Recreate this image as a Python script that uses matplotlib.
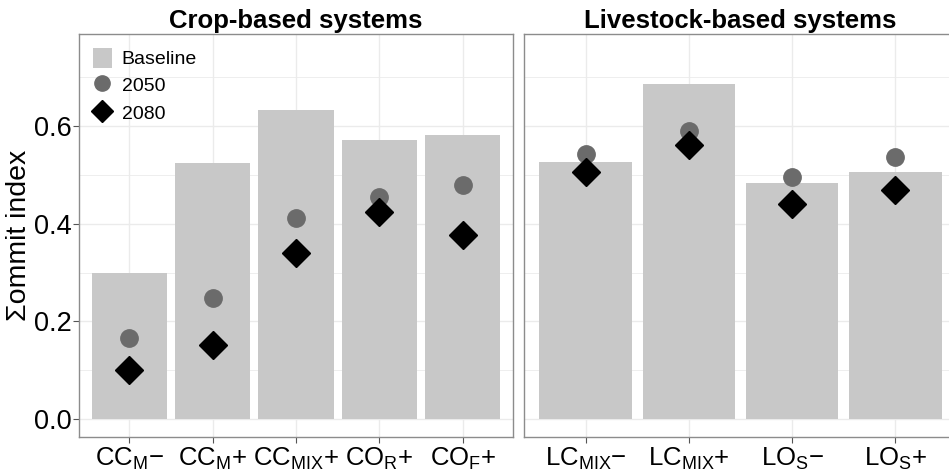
import matplotlib
matplotlib.use("Agg")
import matplotlib.pyplot as plt
from matplotlib.lines import Line2D
from matplotlib.patches import Patch
import numpy as np

plt.rcParams['font.family'] = ['Liberation Sans', 'DejaVu Sans']
plt.rcParams['mathtext.fontset'] = 'custom'
plt.rcParams['mathtext.rm'] = 'Liberation Sans'
plt.rcParams['mathtext.it'] = 'Liberation Sans:italic'
plt.rcParams['mathtext.bf'] = 'Liberation Sans:bold'

crop_labels = ["CC$_{\\mathregular{M}}$\u2212", "CC$_{\\mathregular{M}}$+", "CC$_{\\mathregular{MIX}}$+",
               "CO$_{\\mathregular{R}}$+", "CO$_{\\mathregular{F}}$+"]
crop_baseline = [0.299, 0.524, 0.633, 0.571, 0.582]
crop_2050 = [0.166, 0.248, 0.412, 0.454, 0.479]
crop_2080 = [0.100, 0.152, 0.340, 0.424, 0.377]

live_labels = ["LC$_{\\mathregular{MIX}}$\u2212", "LC$_{\\mathregular{MIX}}$+",
               "LO$_{\\mathregular{S}}$\u2212", "LO$_{\\mathregular{S}}$+"]
live_baseline = [0.527, 0.687, 0.484, 0.506]
live_2050 = [0.543, 0.591, 0.495, 0.536]
live_2080 = [0.506, 0.561, 0.440, 0.469]

yticks = [0.0, 0.2, 0.4, 0.6]
ytick_labels = ["0.0", "0.2", "0.4", "0.6"]

W, H = 949, 471
fig = plt.figure(figsize=(W/100, H/100), dpi=100)

def px(x0, y0, x1, y1):
    return [x0/W, 1 - y1/H, (x1-x0)/W, (y1-y0)/H]

ax1 = fig.add_axes(px(79, 34, 513, 437))
ax2 = fig.add_axes(px(524, 34, 957, 437))

bar_col = '#c8c8c8'
c2050 = '#6b6b6b'
grid_col = '#ebebeb'

def panel(ax, labels, base, v50, v80, title, show_y):
    x = np.arange(len(labels))
    ax.set_axisbelow(True)
    ax.bar(x, base, width=0.9, color=bar_col, zorder=2)
    ax.plot(x, v50, 'o', color=c2050, markersize=12.5, linestyle='none', zorder=3)
    ax.plot(x, v80, 'D', color='black', markersize=14.5, linestyle='none', zorder=4)
    ax.set_xlim(-0.6, len(labels) - 0.4)
    ax.set_ylim(-0.037, 0.789)
    ax.set_xticks(x)
    ax.set_xticklabels(labels, fontsize=18.5)
    ax.set_yticks(yticks)
    ax.set_yticks([0.1, 0.3, 0.5, 0.7], minor=True)
    ax.grid(True, which='major', color=grid_col, linewidth=1.0)
    ax.grid(True, which='minor', axis='y', color=grid_col, linewidth=0.6)
    ax.tick_params(axis='both', which='major', direction='out', length=4, color='#555555',
                   width=0.8, labelcolor='black', pad=2)
    ax.tick_params(axis='y', which='minor', length=0)
    if show_y:
        ax.set_yticklabels(ytick_labels, fontsize=19.5)
        ax.tick_params(axis='y', which='major', pad=1)
    else:
        ax.set_yticklabels([])
        ax.tick_params(axis='y', which='major', length=0)
    for s in ax.spines.values():
        s.set_color('#8c8c8c')
        s.set_linewidth(1.0)
    ax.set_title(title, fontsize=18.5, fontweight='bold', pad=4)

panel(ax1, crop_labels, crop_baseline, crop_2050, crop_2080, "Crop-based systems", True)
panel(ax2, live_labels, live_baseline, live_2050, live_2080, "Livestock-based systems", False)
ax1.set_ylabel("\u03a3ommit index", fontsize=20.5)
ax1.yaxis.set_label_coords(-0.108, 0.5)

handles = [Patch(facecolor=bar_col, edgecolor='none', label='Baseline'),
           Line2D([], [], marker='o', color=c2050, linestyle='none', markersize=11, label='2050'),
           Line2D([], [], marker='D', color='black', linestyle='none', markersize=11, label='2080')]
leg = ax1.legend(handles=handles, loc='upper left', frameon=False, fontsize=14,
                 handlelength=1.0, handleheight=1.2, handletextpad=0.5, labelspacing=0.35,
                 borderaxespad=0.3, bbox_to_anchor=(0.0, 1.0))

fig.savefig("out.png", dpi=100)
